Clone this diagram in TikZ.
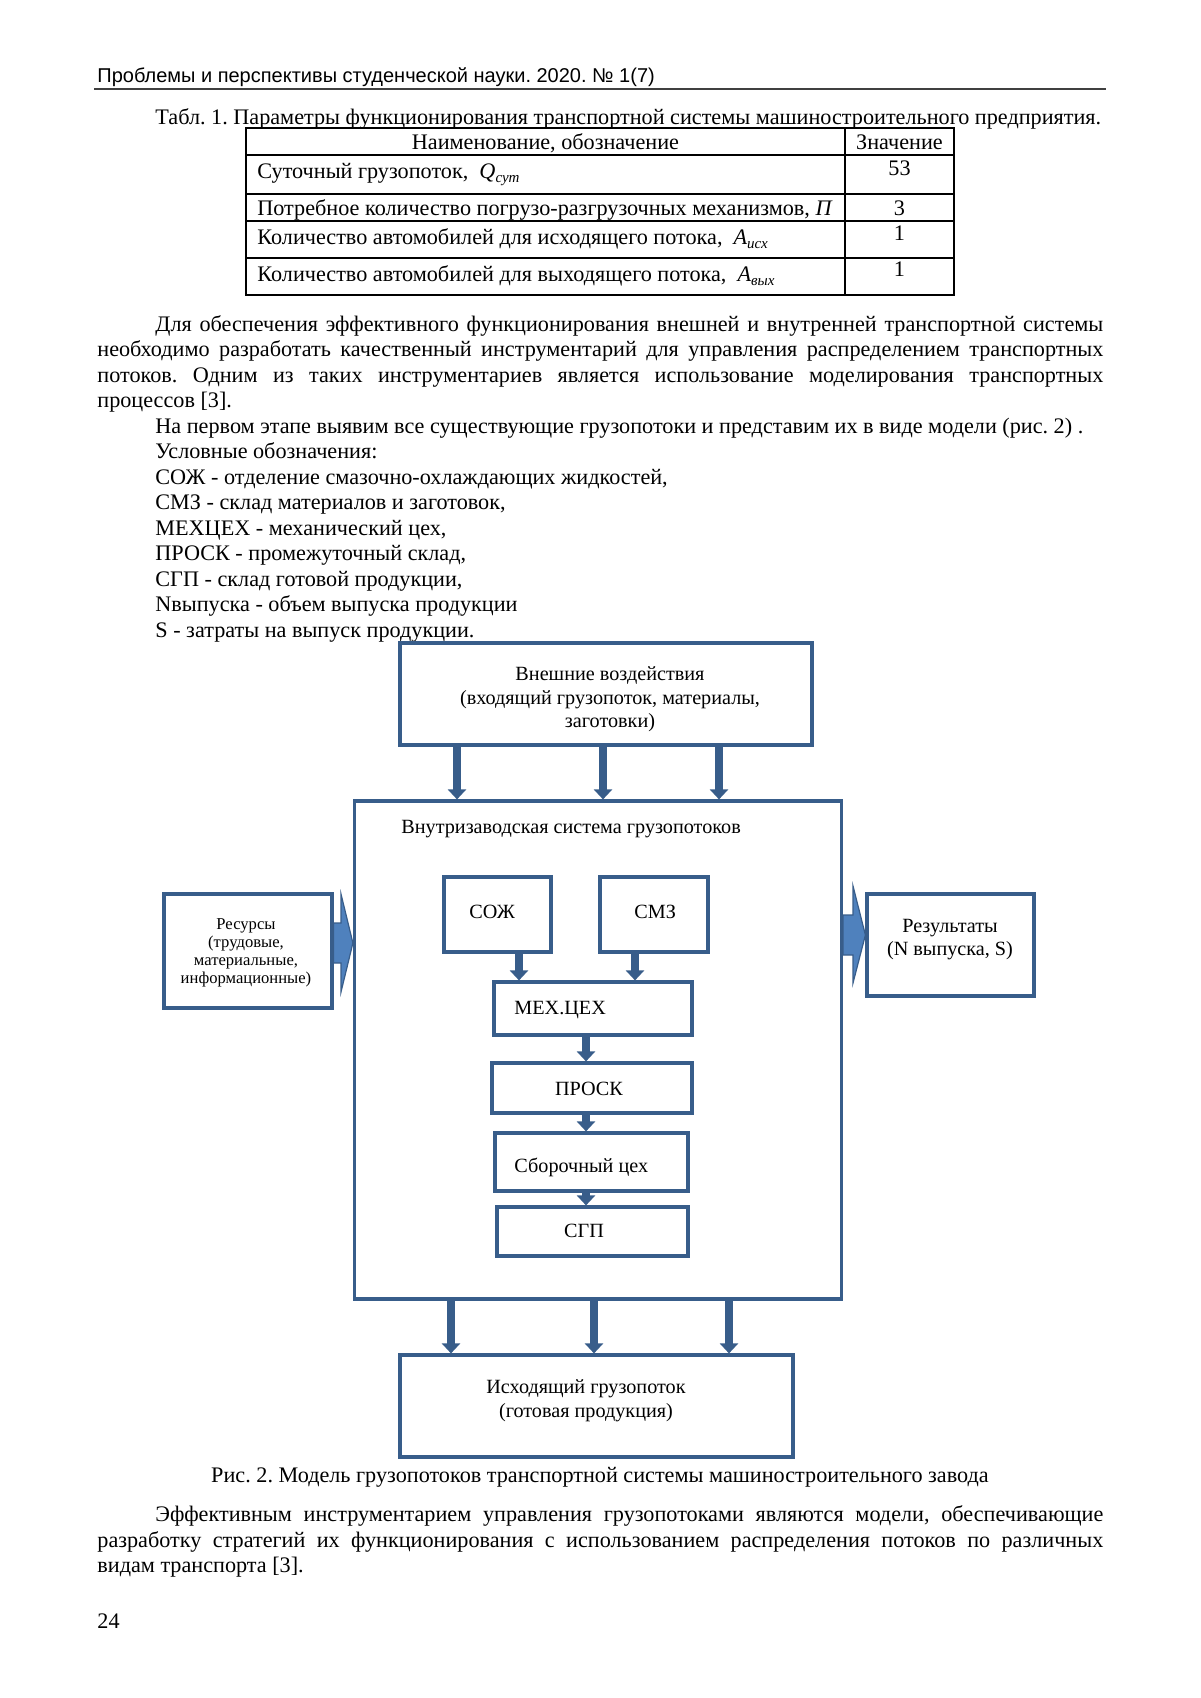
\documentclass[tikz,border=0pt]{standalone}
\usepackage{fontspec}
\setmainfont{Liberation Serif}
\newfontfamily\hdrfont{Liberation Sans}
\usetikzlibrary{arrows.meta}
\definecolor{bord}{HTML}{385D8A}
\definecolor{bfill}{HTML}{4F81BD}
\frenchspacing
\begin{document}
\frenchspacing
\begin{tikzpicture}[x=0.5pt,y=-0.5pt,
  txt/.style={anchor=base west,inner sep=0pt,font=\fontsize{11.1}{13}\selectfont},
  ctxt/.style={anchor=base,inner sep=0pt,font=\fontsize{11.1}{13}\selectfont},
  dtxt/.style={anchor=base west,inner sep=0pt,font=\fontsize{10.1}{12}\selectfont},
  dctxt/.style={anchor=base,inner sep=0pt,font=\fontsize{10.1}{12}\selectfont},
  stxt/.style={anchor=base,inner sep=0pt,font=\fontsize{8.3}{10}\selectfont},
  box/.style n args={2}{draw=bord,line width=1.6pt,fill=white,inner sep=0pt,
     minimum width=#1*0.5pt,minimum height=#2*0.5pt},
  arr/.style={draw=bord,line width=4pt,-{Triangle[width=9pt,length=5pt]}},
  blk/.style={draw=bord,line width=0.6pt,fill=bfill},
  tline/.style={line width=0.6pt,black}]
\useasboundingbox (0,0) rectangle (1200,1698);
\fill[white] (0,0) rectangle (1200,1698);

% header
\node[anchor=base west,inner sep=0pt,font=\hdrfont\fontsize{10}{12}\selectfont] (hdr) at (97,82) {Проблемы и перспективы студенческой науки. 2020. № 1(7)};
\draw[line width=0.8pt,black!75] (94,89) -- (1106,89);

% table caption
\node[txt] (tcap) at (155,124) {Табл. 1. Параметры функционирования транспортной системы машиностроительного предприятия.};

% table
\draw[tline] (246,128) rectangle (954,295);
\draw[tline] (845,128) -- (845,295);
\foreach \yy in {155,194,221,258} \draw[tline] (246,\yy) -- (954,\yy);
\node[ctxt] (th1) at (545.5,149) {Наименование, обозначение};
\node[ctxt] (th2) at (899.5,149) {Значение};
\node[txt] (r1) at (257,178.5) {Суточный грузопоток,\ \ {\itshape Q}\raisebox{-0.4ex}{\fontsize{7.5}{8}\selectfont\itshape сут}};
\node[ctxt] (v1) at (899.5,175) {53};
\node[txt] (r2) at (257,215) {Потребное количество погрузо-разгрузочных механизмов, {\itshape П}};
\node[ctxt] (v2) at (899.5,215) {3};
\node[txt] (r3) at (257,244.5) {Количество автомобилей для исходящего потока,\ \ {\itshape А}\raisebox{-0.4ex}{\fontsize{7.5}{8}\selectfont\itshape исх}};
\node[ctxt] (v3) at (899.5,240) {1};
\node[txt] (r4) at (257,281.5) {Количество автомобилей для выходящего потока,\ \ {\itshape А}\raisebox{-0.4ex}{\fontsize{7.5}{8}\selectfont\itshape вых}};
\node[ctxt] (v4) at (899.5,276.5) {1};

% body text
\node[txt] (p1) at (155,331) {\makebox[474pt][s]{Для обеспечения эффективного функционирования внешней и внутренней транспортной системы}};
\node[txt] (p2) at (97,356.5) {\makebox[503pt][s]{необходимо разработать качественный инструментарий для управления распределением транспортных}};
\node[txt] (p3) at (97,382) {\makebox[503pt][s]{потоков. Одним из таких инструментариев является использование моделирования транспортных}};
\node[txt] (p4) at (97,407.5) {процессов [3].};
\node[txt] (p5) at (155,433) {На первом этапе выявим все существующие грузопотоки и представим их в виде модели (рис. 2) .};
\node[txt] (p6) at (155,458.5) {Условные обозначения:};
\node[txt] (p7) at (155,484) {СОЖ - отделение смазочно-охлаждающих жидкостей,};
\node[txt] (p8) at (155,509.5) {СМЗ - склад материалов и заготовок,};
\node[txt] (p9) at (155,535) {МЕХЦЕХ - механический цех,};
\node[txt] (p10) at (155,560.5) {ПРОСК - промежуточный склад,};
\node[txt] (p11) at (155,586) {СГП - склад готовой продукции,};
\node[txt] (p12) at (155,611.5) {Nвыпуска - объем выпуска продукции};
\node[txt] (p13) at (155,637) {S - затраты на выпуск продукции.};

% diagram boxes
\node[box={412}{102}] (top) at (606,694) {};
\node[box={487}{498}] (main) at (598,1050) {};
\node[box={168}{114}] (res) at (248,951) {};
\node[box={167}{102}] (resu) at (950.5,945) {};
\node[box={107}{75}] (soj) at (497.5,914.5) {};
\node[box={108}{75}] (smz) at (654,914.5) {};
\node[box={198}{53}] (mex) at (593,1008.5) {};
\node[box={200}{50}] (prosk) at (592,1088) {};
\node[box={193}{58}] (sbor) at (591.5,1162) {};
\node[box={191}{49}] (sgp) at (592.5,1231.5) {};
\node[box={393}{102}] (out) at (596.5,1406) {};

% diagram texts
\node[dctxt] (t1) at (610,680) {Внешние воздействия};
\node[dctxt] (t2) at (610,704) {(входящий грузопоток, материалы,};
\node[dctxt] (t3) at (610,727) {заготовки)};
\node[dtxt] (mt) at (401,833) {Внутризаводская система грузопотоков};
\node[dtxt] (sojt) at (469,918) {СОЖ};
\node[dtxt] (smzt) at (634,918) {СМЗ};
\node[dtxt] (mext) at (514,1014) {МЕХ.ЦЕХ};
\node[dctxt] (proskt) at (589,1095) {ПРОСК};
\node[dtxt] (sbort) at (514,1172) {Сборочный цех};
\node[dctxt] (sgpt) at (584,1237) {СГП};
\node[dctxt] (o1) at (586,1393) {Исходящий грузопоток};
\node[dctxt] (o2) at (586,1417) {(готовая продукция)};
\node[stxt] (rs1) at (246,929) {Ресурсы};
\node[stxt] (rs2) at (246,947) {(трудовые,};
\node[stxt] (rs3) at (246,965) {материальные,};
\node[stxt] (rs4) at (246,983) {информационные)};
\node[dctxt] (ru1) at (950,932) {Результаты};
\node[dctxt] (ru2) at (950,955) {(N выпуска, S)};

% arrows
\draw[arr] (top.south -| 457,0) -- (main.north -| 457,0);
\draw[arr] (top.south -| 603,0) -- (main.north -| 603,0);
\draw[arr] (top.south -| 719,0) -- (main.north -| 719,0);
\draw[arr] (soj.south -| 519,0) -- (mex.north -| 519,0);
\draw[arr] (smz.south -| 635,0) -- (mex.north -| 635,0);
\draw[arr] (mex.south -| 586,0) -- (prosk.north -| 586,0);
\draw[arr] (prosk.south -| 586,0) -- (sbor.north -| 586,0);
\draw[arr] (sbor.south -| 586,0) -- (sgp.north -| 586,0);
\draw[arr] (main.south -| 451,0) -- (out.north -| 451,0);
\draw[arr] (main.south -| 594,0) -- (out.north -| 594,0);
\draw[arr] (main.south -| 729,0) -- (out.north -| 729,0);

% block arrows
\draw[blk] (res.east |- 0,923) -- (341,923) -- (341,894) -- (main.west |- 0,943)
   -- (341,992) -- (341,963) -- (res.east |- 0,963) -- cycle;
\draw[blk] (main.east |- 0,915) -- (853,915) -- (853,886) -- (resu.west |- 0,935)
   -- (853,983) -- (853,955) -- (main.east |- 0,955) -- cycle;

% caption
\node[ctxt] (fcap) at (600,1482) {Рис. 2. Модель грузопотоков транспортной системы машиностроительного завода};

% closing paragraph
\node[txt] (q1) at (155,1521) {\makebox[474pt][s]{Эффективным инструментарием управления грузопотоками являются модели, обеспечивающие}};
\node[txt] (q2) at (97,1547) {\makebox[503pt][s]{разработку стратегий их функционирования с использованием распределения потоков по различных}};
\node[txt] (q3) at (97,1572) {видам транспорта [3].};
\node[txt] (pg) at (97,1628) {24};
\end{tikzpicture}
\end{document}
